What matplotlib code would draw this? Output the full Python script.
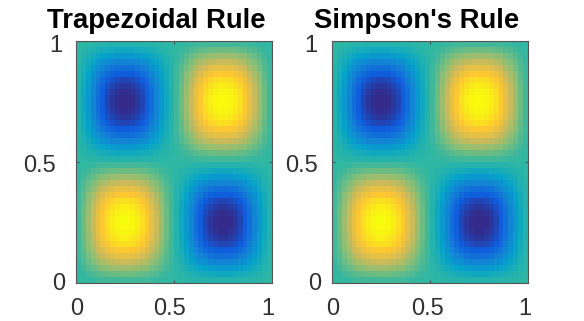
import matplotlib
matplotlib.use("Agg")
import matplotlib.pyplot as plt
import numpy as np
from matplotlib.colors import LinearSegmentedColormap
from matplotlib.transforms import ScaledTranslation

plt.rcParams['font.family'] = ['Liberation Sans', 'DejaVu Sans']

titles = ["Trapezoidal Rule", "Simpson's Rule"]
tick_vals = [0, 0.5, 1]
tick_labels = ["0", "0.5", "1"]

# bottom left corner of the peak, in percent of the colour range
corner = [
    [0, 1, 2, 3, 4, 5, 5, 6, 6, 6],
    [1, 3, 6, 9, 11, 14, 15, 17, 18, 18],
    [2, 6, 11, 16, 20, 25, 28, 31, 32, 33],
    [3, 9, 16, 23, 30, 36, 41, 45, 47, 48],
    [4, 11, 20, 30, 38, 47, 53, 58, 61, 62],
    [5, 14, 25, 36, 47, 56, 65, 70, 74, 75],
    [5, 15, 28, 41, 53, 65, 74, 80, 84, 86],
    [6, 17, 31, 45, 58, 70, 80, 86, 91, 93],
    [6, 18, 32, 47, 61, 74, 84, 91, 96, 98],
    [6, 18, 33, 48, 62, 75, 86, 93, 98, 100],
]

parula = ['#352a87', '#0f5cdd', '#1481d6', '#06a4ca', '#2eb7a4',
          '#87bf77', '#d1bb59', '#fec832', '#f9fb0e']
cmap = LinearSegmentedColormap.from_list('parula', parula)

# the four lobes are mirror copies of one another
peak = np.array(corner)
peak = np.hstack([peak, peak[:, ::-1]])
peak = np.vstack([peak, peak[::-1]])
grid = np.vstack([np.hstack([peak, -peak]), np.hstack([-peak, peak])])

fig = plt.figure(figsize=(5.84, 3.21), dpi=100)
W, H = 584.0, 321.0
lefts = [76, 332]
title_x = [0.408, 0.431]
# the tick labels in the reference sit a few pixels off their ticks
xlabel_dx = [[1, -4, -4], [1, -3, -3]]
ylabel_dx = [[0, -9, -3], [0, -3, -4]]
ylabel_dy = [2, -1, -2]


def nudge(label, dx, dy):
    off = ScaledTranslation(dx / 100, dy / 100, fig.dpi_scale_trans)
    label.set_transform(label.get_transform() + off)


for i in range(2):
    ax = fig.add_axes([lefts[i] / W, (H - 283) / H, 196 / W, 242 / H])
    ax.imshow(grid, cmap=cmap, vmin=-100, vmax=100, origin='lower',
              extent=[0, 1, 0, 1], aspect='auto', interpolation='nearest')
    ax.set_xticks(tick_vals)
    ax.set_xticklabels(tick_labels)
    ax.set_yticks(tick_vals)
    ax.set_yticklabels(tick_labels)
    ax.tick_params(direction='in', length=2, width=0.6, color='#404040',
                   labelcolor='#303030', labelsize=17, top=True, right=True)
    ax.tick_params(axis='x', pad=11)
    ax.tick_params(axis='y', pad=8)
    for s in ax.spines.values():
        s.set_linewidth(0.8)
        s.set_color('#555555')
    for j, lab in enumerate(ax.get_xticklabels()):
        nudge(lab, xlabel_dx[i][j], 0)
    for j, lab in enumerate(ax.get_yticklabels()):
        nudge(lab, ylabel_dx[i][j], ylabel_dy[j])
    ax.text(title_x[i], 1.054, titles[i], transform=ax.transAxes, ha='center', va='baseline',
            fontsize=19.8, fontweight='bold', color='black')

fig.savefig('out.png', dpi=100)
